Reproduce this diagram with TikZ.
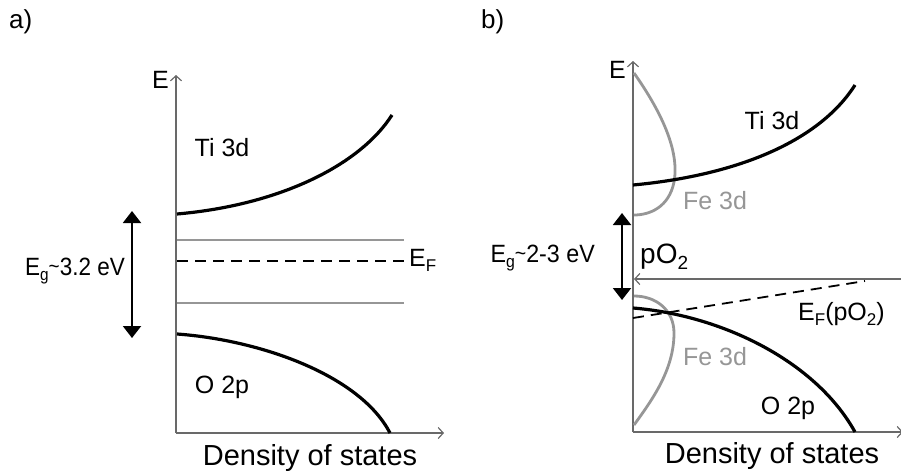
\documentclass[tikz,border=0pt]{standalone}
\usepackage{fontspec}
\setmainfont{Liberation Sans}
\usetikzlibrary{arrows.meta}
\definecolor{axisgray}{RGB}{105,105,105}
\definecolor{bandgray}{RGB}{150,150,150}
\newcommand\mysub[1]{\raisebox{-0.22em}{\fontsize{17}{17}\selectfont #1}}
\tikzset{
  axisline/.style={draw=axisgray, line width=1.4pt, -{Straight Barb[length=5pt,width=11pt,line width=1.2pt]}},
  bandcurve/.style={draw=black, line width=3.2pt},
  graycurve/.style={draw=bandgray, line width=2.8pt},
  gaparrow/.style={draw=black, line width=2pt, {Triangle[length=12pt,width=18pt]}-{Triangle[length=12pt,width=18pt]}},
  efline/.style={draw=black, line width=1.8pt, dash pattern=on 11pt off 7pt},
  lbl/.style={inner sep=0pt, font=\fontsize{25}{29}\selectfont},
  panellbl/.style={inner sep=0pt, font=\fontsize{26}{30}\selectfont},
  biglbl/.style={inner sep=0pt, font=\fontsize{29}{33}\selectfont},
  graylbl/.style={inner sep=0pt, text=bandgray, font=\fontsize{25}{29}\selectfont},
}
\begin{document}
\begin{tikzpicture}[x=1pt,y=-1pt]
\useasboundingbox (0,0) rectangle (901,474);
% ---------------- panel a ----------------
\node[panellbl, anchor=base west] (la) at (9,28) {a)};
\coordinate (a0) at (176,433);
\coordinate (atop) at (176,75);
\coordinate (aright) at (444,433);
\draw[axisline] (a0) -- (atop);
\draw[axisline] (a0) -- (aright);
\node[lbl, anchor=base east] (aE) at (169,88) {E};
% Ti 3d
\draw[bandcurve] (177,214) .. controls (280,205) and (360,165) .. (392,115);
\node[lbl] (aTi) at (222,148) {Ti 3d};
% O 2p
\draw[bandcurve] (177,334) .. controls (260,340) and (360,375) .. (390,433);
\node[lbl] (aO) at (222,387) {O 2p};
% gray levels
\coordinate (g1a) at (177,240); \coordinate (g1b) at (404,240);
\coordinate (g2a) at (177,303); \coordinate (g2b) at (404,303);
\draw[graycurve] (g1a) -- (g1b);
\draw[graycurve] (g2a) -- (g2b);
\coordinate (efa) at (177,261); \coordinate (efb) at (404,261);
\draw[efline] (efa) -- (efb);
\node[lbl, anchor=base west] (aEF) at (409,266) {E\mysub{F}};
% gap arrow
\coordinate (gapat) at (132,211); \coordinate (gapab) at (132,338);
\draw[gaparrow] (gapab) -- (gapat);
\node[lbl, anchor=base east] (aEg) at (125,275) {\scalebox{0.9}[1]{E\mysub{g}\raisebox{0.05em}{\fontsize{21}{21}\selectfont\textasciitilde}3.2 eV}};
\node[biglbl] (aDOS) at (310,458) {Density of states};
% ---------------- panel b ----------------
\node[panellbl, anchor=base west] (lb) at (481,28) {b)};
\coordinate (b0) at (633,432);
\coordinate (btop) at (633,61);
\coordinate (bright) at (903,432);
\draw[axisline] (b0) -- (btop);
\draw[axisline] (b0) -- (bright);
\node[lbl, anchor=base east] (bE) at (626,78) {E};
% Fe 3d upper
\draw[graycurve] (634,73) .. controls (660,110) and (680,150) .. (674,182) .. controls (669,207) and (650,215) .. (634,215);
\node[graylbl] (bFe1) at (715,201) {Fe 3d};
% Ti 3d
\draw[bandcurve] (633,185) .. controls (740,175) and (820,140) .. (855,85);
\node[lbl] (bTi) at (772,121) {Ti 3d};
% Fe 3d lower
\draw[graycurve] (634,296) .. controls (656,296) and (674,310) .. (674,333) .. controls (674,370) and (652,400) .. (634,425);
\node[graylbl] (bFe2) at (715,357) {Fe 3d};
% O 2p
\draw[bandcurve] (633,308) .. controls (720,315) and (815,360) .. (855,432);
\node[lbl] (bO) at (788,408) {O 2p};
% pO2 arrow
\coordinate (pstart) at (903,279);
\coordinate (pend) at (634,279);
\draw[draw=axisgray, line width=1.4pt, -{Straight Barb[length=5pt,width=11pt,line width=1.2pt]}] (pstart) -- (pend);
\node[inner sep=0pt, anchor=base west, font=\fontsize{28}{32}\selectfont] (bp) at (640,263) {pO\raisebox{-0.22em}{\fontsize{19}{19}\selectfont 2}};
% E_F(pO2)
\coordinate (efc) at (633,318); \coordinate (efd) at (865,281);
\draw[efline] (efc) -- (efd);
\node[lbl, anchor=base west] (bEF) at (798,320) {E\mysub{F}(pO\mysub{2})};
% gap arrow
\coordinate (gapbt) at (622,213); \coordinate (gapbb) at (622,300);
\draw[gaparrow] (gapbb) -- (gapbt);
\node[lbl, anchor=base east] (bEg) at (595,262) {\scalebox{0.93}[1]{E\mysub{g}\raisebox{0.05em}{\fontsize{21}{21}\selectfont\textasciitilde}2-3 eV}};
\node[biglbl] (bDOS) at (772,456) {Density of states};
\end{tikzpicture}
\end{document}
